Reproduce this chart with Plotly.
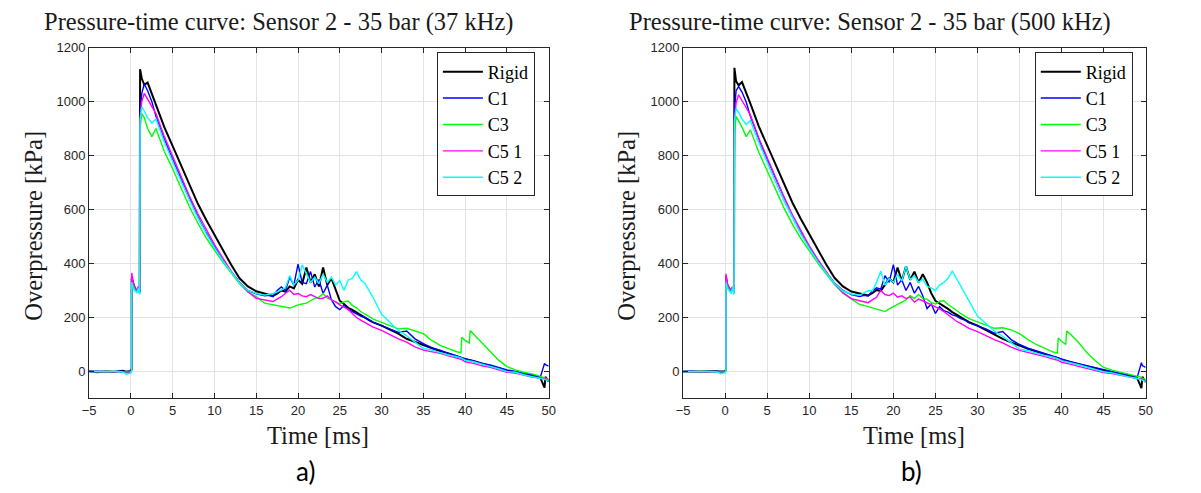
import plotly.graph_objects as go

W, H = 1201, 493
PAGE_OFF = 8  # browser default body margin

# time grid [ms], written in segments
T = ([-5, -4, -3, -2, -1, -0.5, 0]
     + [0.1, 0.1, 0.3, 0.5, 0.7, 0.9, 1.05]
     + [1.1, 1.3, 1.6, 2.0, 2.5]
     + [3, 4, 5, 6, 7, 8, 9, 10, 11, 12, 13, 14, 15, 16]
     + [16.5, 17, 17.5, 18, 18.5, 19, 19.5, 20, 20.5, 21, 21.5, 22, 22.5,
        23, 23.5, 24, 24.5, 25, 25.5, 26, 26.5, 27, 27.5, 28, 28.5, 29]
     + [30, 31, 32, 33, 34, 35, 36, 37, 38, 39]
     + [39.5, 39.6, 40, 40.5, 40.6, 41, 42, 43, 44, 45, 46, 47, 48, 49]
     + [49.5, 49.6, 50])

# ---- a) 37 kHz, overpressure [kPa]
rigid_37 = ([2, -3, 1, -2, 3, -1, 2]
            + [10, 345, 320, 305, 300, 310, 295]
            + [1120, 1085, 1062, 1070, 1030]
            + [990, 905, 835, 762, 690, 622, 562, 505, 450, 395, 345, 315, 297, 287]
            + [284, 280, 288, 300, 296, 315, 308, 340, 325, 385, 330, 360, 315,
               385, 320, 345, 300, 262, 250, 236, 228, 218, 208, 200, 190, 182]
            + [170, 155, 140, 121, 109, 97, 85, 75, 67, 58]
            + [52, 50, 46, 43, 42, 39, 30, 21, 12, 3, -3, -9, -15, -24]
            + [-60, -20, -38])
c1_37 = ([0, 1, -1, 0, 1, -2, -3]
         + [8, 350, 315, 300, 295, 305, 290]
         + [960, 1030, 1065, 1040, 1000]
         + [945, 860, 785, 715, 640, 575, 515, 460, 410, 370, 330, 300, 288, 280]
         + [282, 277, 300, 313, 300, 349, 320, 398, 330, 325, 370, 313, 340,
            289, 320, 265, 240, 229, 245, 230, 222, 212, 205, 200, 190, 182]
         + [170, 158, 145, 150, 121, 103, 88, 79, 67, 58]
         + [52, 50, 46, 43, 42, 39, 30, 24, 15, 6, 0, -6, -12, -21]
         + [30, 25, 20])
c3_37 = ([0, -1, 1, 0, -1, 0, -2]
         + [6, 340, 318, 300, 296, 305, 292]
         + [900, 955, 940, 900, 870]
         + [900, 815, 750, 680, 610, 550, 495, 450, 405, 365, 325, 295, 277, 253]
         + [250, 247, 244, 241, 238, 235, 240, 247, 250, 253, 262, 271, 275,
            289, 272, 265, 255, 250, 258, 261, 245, 236, 222, 212, 202, 194]
         + [182, 170, 158, 160, 150, 140, 115, 97, 85, 73]
         + [70, 127, 115, 105, 152, 139, 109, 73, 42, 18, 6, -3, -9, -18]
         + [-22, -25, -30])
c51_37 = ([0, 1, 0, -1, 0, 1, -1]
          + [8, 365, 325, 310, 300, 315, 295]
          + [940, 1000, 1030, 1010, 985]
          + [955, 870, 795, 722, 650, 585, 525, 470, 420, 372, 330, 295, 271, 265]
          + [262, 259, 268, 277, 290, 301, 285, 289, 280, 277, 285, 277, 270,
             271, 280, 265, 258, 247, 238, 230, 215, 200, 190, 182, 172, 164]
          + [152, 136, 121, 109, 91, 79, 73, 67, 58, 49]
          + [45, 44, 36, 33, 32, 30, 21, 15, 6, -3, -6, -13, -21, -24]
          + [-27, -28, -30])
c52_37 = ([0, 0, 1, 0, -2, -10, -5]
          + [5, 330, 305, 300, 290, 310, 285]
          + [930, 980, 965, 940, 920]
          + [935, 850, 775, 705, 635, 570, 512, 458, 410, 368, 328, 300, 289, 283]
          + [285, 289, 295, 301, 310, 355, 320, 337, 395, 361, 330, 349, 325,
             361, 330, 349, 320, 337, 300, 339, 345, 370, 340, 327, 300, 273]
          + [212, 182, 152, 133, 109, 85, 79, 70, 61, 55]
          + [50, 49, 42, 40, 39, 36, 27, 19, 10, 0, -3, -12, -18, -24]
          + [-28, -30, -36])

# ---- b) 500 kHz
rigid_500 = ([0, -1, 0, 1, -1, 0, 1]
             + [8, 330, 315, 305, 300, 312, 298]
             + [1125, 1075, 1060, 1072, 1035]
             + [992, 908, 838, 765, 693, 625, 565, 508, 452, 397, 347, 315, 296, 288]
             + [285, 282, 290, 302, 298, 320, 345, 330, 385, 335, 390, 340, 370,
                330, 360, 330, 290, 262, 252, 245, 232, 220, 210, 200, 192, 183]
             + [170, 153, 138, 121, 108, 95, 84, 74, 65, 56]
             + [50, 49, 44, 40, 39, 36, 28, 19, 10, 2, -4, -10, -16, -25]
             + [-62, -20, -40])
c1_500 = ([0, 1, -1, 0, 1, -2, -2]
          + [8, 355, 318, 302, 296, 306, 291]
          + [965, 1040, 1055, 1035, 998]
          + [945, 860, 785, 715, 640, 575, 515, 460, 410, 368, 328, 300, 285, 278]
          + [282, 280, 298, 310, 305, 355, 330, 396, 320, 340, 300, 330, 290,
             315, 280, 233, 250, 215, 240, 225, 220, 210, 205, 196, 190, 180]
          + [168, 158, 142, 148, 118, 100, 86, 76, 65, 56]
          + [50, 48, 44, 40, 39, 36, 28, 21, 13, 5, -1, -7, -13, -21]
          + [33, 22, 15])
c3_500 = ([0, -1, 1, 0, -1, 0, -2]
          + [6, 340, 316, 300, 295, 304, 290]
          + [880, 945, 930, 905, 870]
          + [895, 812, 745, 675, 605, 545, 492, 448, 402, 362, 322, 290, 268, 248]
          + [245, 240, 235, 232, 227, 222, 232, 240, 250, 258, 265, 281, 270,
             285, 270, 268, 255, 250, 260, 262, 248, 238, 225, 215, 205, 196]
          + [184, 172, 160, 162, 154, 140, 118, 100, 85, 72]
          + [68, 124, 112, 100, 150, 140, 108, 70, 40, 15, 5, -3, -10, -18]
          + [-22, -26, -30])
c51_500 = ([0, 1, 0, -1, 0, 1, -1]
           + [8, 362, 322, 308, 300, 313, 294]
           + [935, 995, 1025, 1005, 980]
           + [950, 865, 790, 718, 645, 580, 520, 465, 416, 368, 325, 292, 270, 262]
           + [258, 255, 265, 275, 300, 285, 281, 290, 275, 280, 270, 276, 257,
              268, 262, 255, 248, 240, 232, 222, 210, 196, 186, 178, 168, 160]
           + [148, 132, 118, 106, 90, 78, 71, 64, 55, 46]
           + [42, 41, 34, 31, 30, 27, 19, 12, 4, -4, -8, -14, -22, -26]
           + [-28, -30, -32])
c52_500 = ([0, 0, 1, 0, -2, -8, -4]
           + [5, 330, 305, 300, 288, 312, 285]
           + [925, 975, 960, 935, 915]
           + [930, 848, 772, 702, 632, 568, 510, 456, 408, 366, 326, 298, 287, 282]
           + [290, 300, 298, 330, 372, 320, 345, 330, 360, 335, 390, 340, 355,
              330, 342, 315, 310, 300, 320, 330, 345, 372, 345, 318, 290, 262]
           + [205, 178, 150, 130, 106, 83, 77, 68, 59, 53]
           + [48, 47, 40, 37, 36, 33, 25, 17, 8, -1, -5, -13, -20, -26]
           + [-30, -32, -38])

names = ["Rigid", "C1", "C3", "C5 1", "C5 2"]
colors = ["#000000", "#0000ff", "#00ff00", "#ff00ff", "#00ffff"]
panels = [
    ("x", "y", "legend", [rigid_37, c1_37, c3_37, c51_37, c52_37]),
    ("x2", "y2", "legend2", [rigid_500, c1_500, c3_500, c51_500, c52_500]),
]

fig = go.Figure()
for xa, ya, lg, series in panels:
    for name, col, vals in zip(names, colors, series):
        assert len(vals) == len(T)
        fig.add_trace(go.Scatter(
            x=T, y=vals, mode="lines", name=name, xaxis=xa, yaxis=ya, legend=lg,
            line=dict(color=col, width=2 if name == "Rigid" else 1.4)))

# page pixel -> paper fraction
def px(x):
    return (x - PAGE_OFF) / W

def py(y):
    return 1 - (y - PAGE_OFF) / H

axis_common = dict(
    showline=True, linecolor="#262626", linewidth=1, mirror="ticks",
    ticks="inside", ticklen=5, tickcolor="#262626",
    showgrid=True, gridcolor="#e3e3e3", gridwidth=1, zeroline=False,
    tickfont=dict(family="Liberation Sans", size=13, color="#262626"),
)
xcommon = dict(axis_common, range=[-5, 50], tickmode="array",
               tickvals=list(range(-5, 51, 5)))
ycommon = dict(axis_common, range=[-100, 1200], tickmode="array",
               tickvals=list(range(0, 1201, 200)))

fig.update_layout(
    width=W, height=H, margin=dict(l=0, r=0, t=0, b=0),
    paper_bgcolor="white", plot_bgcolor="white", showlegend=True,
    xaxis=dict(xcommon, domain=[px(83), px(548)], anchor="y"),
    yaxis=dict(ycommon, domain=[py(397), py(41)], anchor="x"),
    xaxis2=dict(xcommon, domain=[px(684), px(1152)], anchor="y2"),
    yaxis2=dict(ycommon, domain=[py(397), py(41)], anchor="x2"),
)

leg = dict(xanchor="right", yanchor="top", bgcolor="white",
           bordercolor="#262626", borderwidth=1,
           font=dict(family="Liberation Serif", size=18, color="black"),
           tracegroupgap=0, itemwidth=40)
fig.update_layout(
    legend=dict(leg, x=px(534), y=py(46)),
    legend2=dict(leg, x=px(1139), y=py(46)),
)

serif_t = dict(family="Liberation Serif", size=24.5, color="#1a1a1a")
serif_l = dict(family="Liberation Serif", size=24.5, color="#1a1a1a")
sans = dict(family="Lato", size=26, color="black")
texts = [
    ("Pressure-time curve: Sensor 2 - 35 bar (37 kHz)", 275, 15, 0, serif_t),
    ("Pressure-time curve: Sensor 2 - 35 bar (500 kHz)", 873, 15, 0, serif_t),
    ("Overpressure [kPa]", 27, 222, -90, serif_l),
    ("Overpressure [kPa]", 627, 222, -90, serif_l),
    ("Time [ms]", 315, 435, 0, serif_l),
    ("Time [ms]", 918, 435, 0, serif_l),
    ("a)", 302, 471, 0, sans),
    ("b)", 915, 471, 0, sans),
]
for txt, x, y, ang, fnt in texts:
    fig.add_annotation(text=txt, x=px(x), y=py(y), xref="paper", yref="paper",
                       xanchor="center", yanchor="middle", showarrow=False,
                       textangle=ang, font=fnt)

fig.write_html("out.html")
